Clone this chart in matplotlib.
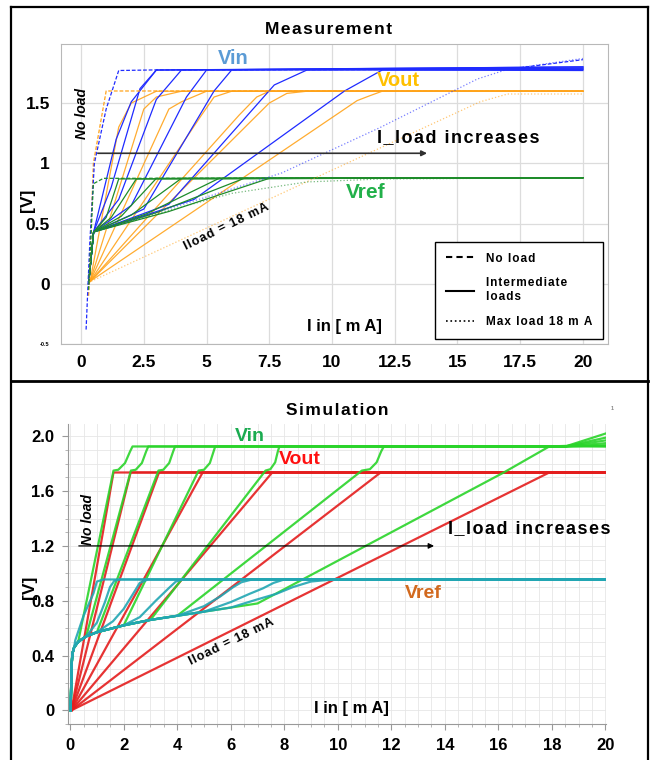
import matplotlib
matplotlib.use("Agg")
import matplotlib.pyplot as plt
from matplotlib.lines import Line2D
from matplotlib.ticker import MultipleLocator, FixedLocator

plt.rcParams["font.family"] = ["Liberation Sans", "DejaVu Sans"]
plt.rcParams["font.weight"] = "bold"

# ---------------- Measurement data (Iin [mA], V) ----------------
meas_xticks = [0, 2.5, 5, 7.5, 10, 12.5, 15, 17.5, 20]
meas_yticks = [-0.5, 0, 0.5, 1, 1.5]

# no load (dashed)
meas_vin_noload_x = [0.2, 0.35, 0.53, 1.0, 1.5, 3.0, 17.0, 20.0]
meas_vin_noload_y = [-0.38, 0.35, 1.0, 1.45, 1.77, 1.775, 1.78, 1.86]
meas_vout_noload_x = [0.3, 0.49, 1.0, 20.0]
meas_vout_noload_y = [-0.1, 1.0, 1.6, 1.6]
meas_vref_noload_x = [0.3, 0.49, 0.89, 20.0]
meas_vref_noload_y = [-0.05, 0.83, 0.875, 0.88]

# intermediate loads (solid)
meas_vin_x = [
    [0.3, 0.5, 1.4, 2.0, 3.0, 20.0],
    [0.3, 0.5, 1.2, 2.35, 3.0, 20.0],
    [0.3, 0.5, 1.5, 3.0, 4.0, 20.0],
    [0.3, 0.5, 2.0, 4.2, 5.0, 20.0],
    [0.3, 0.5, 2.5, 5.3, 6.0, 20.0],
    [0.3, 0.5, 3.5, 7.7, 9.0, 20.0],
    [0.3, 0.5, 4.5, 10.5, 12.0, 20.0],
]
meas_vin_y = [
    [0.0, 0.43, 1.2, 1.51, 1.774, 1.80],
    [0.0, 0.43, 0.8, 1.62, 1.774, 1.79],
    [0.0, 0.43, 0.7, 1.53, 1.774, 1.80],
    [0.0, 0.43, 0.65, 1.55, 1.774, 1.79],
    [0.0, 0.43, 0.62, 1.6, 1.774, 1.78],
    [0.0, 0.43, 0.66, 1.65, 1.774, 1.78],
    [0.0, 0.43, 0.7, 1.6, 1.774, 1.77],
]
meas_vout_x = [
    [0.36, 1.5, 2.0, 3.0, 20.0],
    [0.36, 2.5, 3.0, 4.0, 20.0],
    [0.36, 3.5, 4.0, 5.0, 20.0],
    [0.36, 4.8, 5.3, 6.0, 20.0],
    [0.36, 6.3, 7.0, 7.5, 20.0],
    [0.36, 7.5, 8.2, 9.0, 20.0],
    [0.36, 11.0, 11.5, 12.0, 20.0],
]
meas_vout_y = [
    [0.02, 1.3, 1.5, 1.598, 1.598],
    [0.02, 1.45, 1.55, 1.598, 1.598],
    [0.02, 1.45, 1.51, 1.598, 1.598],
    [0.02, 1.4, 1.55, 1.598, 1.598],
    [0.02, 1.4, 1.55, 1.598, 1.598],
    [0.02, 1.5, 1.58, 1.598, 1.598],
    [0.02, 1.52, 1.56, 1.598, 1.598],
]
meas_vref_x = [
    [0.3, 0.5, 1.0, 1.5, 20.0],
    [0.3, 0.5, 1.2, 2.2, 20.0],
    [0.3, 0.5, 1.6, 3.0, 20.0],
    [0.3, 0.5, 2.0, 4.0, 20.0],
    [0.3, 0.5, 2.6, 5.5, 20.0],
    [0.3, 0.5, 3.0, 6.5, 20.0],
    [0.3, 0.5, 3.5, 7.5, 20.0],
]
meas_vref_y = [
    [0.0, 0.43, 0.55, 0.87, 0.88],
    [0.0, 0.43, 0.55, 0.87, 0.88],
    [0.0, 0.43, 0.56, 0.875, 0.88],
    [0.0, 0.43, 0.57, 0.875, 0.88],
    [0.0, 0.43, 0.58, 0.875, 0.88],
    [0.0, 0.43, 0.59, 0.875, 0.88],
    [0.0, 0.43, 0.6, 0.875, 0.88],
]

# max load 18 mA (dotted)
meas_vin_max_x = [0.3, 0.5, 5.0, 8.0, 11.9, 15.8, 17.0, 20.0]
meas_vin_max_y = [0.0, 0.43, 0.72, 0.92, 1.295, 1.70, 1.78, 1.87]
meas_vout_max_x = [0.4, 15.9, 17.0, 20.0]
meas_vout_max_y = [0.02, 1.51, 1.575, 1.575]
meas_vref_max_x = [0.3, 0.5, 3.0, 6.0, 9.0, 12.0, 20.0]
meas_vref_max_y = [0.0, 0.43, 0.58, 0.75, 0.845, 0.87, 0.88]

# ---------------- Simulation data ----------------
sim_xticks = [0, 2, 4, 6, 8, 10, 12, 14, 16, 18, 20]
sim_yticks = [0, 0.4, 0.8, 1.2, 1.6, 2.0]
sim_ytick_labels = ["0", "0.4", "0.8", "1.2", "1.6", "2.0"]

sim_vout_level = 1.736
sim_vout_knee = [1.62, 2.26, 3.32, 4.95, 7.55, 11.6, 17.9]

# common start of Vin / Vref
sim_bundle_x = [0.02, 0.05, 0.08, 0.15, 0.3, 0.6, 1.0, 2.0, 3.0, 4.0, 5.0, 6.0, 7.0]
sim_bundle_y = [0.0, 0.3, 0.41, 0.46, 0.5, 0.54, 0.57, 0.62, 0.66, 0.69, 0.72, 0.75, 0.78]

# index of the bundle point where each Vin curve leaves it
sim_vin_leave = [4, 5, 6, 7, 8, 9, 12]
sim_vin_x = [
    [1.62, 1.80, 2.05, 2.24, 2.33, 18.5, 20.0],
    [2.27, 2.45, 2.68, 2.84, 2.92, 18.5, 20.0],
    [3.30, 3.48, 3.70, 3.85, 3.92, 18.5, 20.0],
    [4.80, 5.00, 5.22, 5.36, 5.42, 18.5, 20.0],
    [7.30, 7.48, 7.66, 7.76, 7.82, 18.5, 20.0],
    [10.9, 11.2, 11.45, 11.62, 11.72, 18.5, 20.0],
    [16.2, 17.9, 18.5, 20.0],
]
sim_vin_y = [
    [1.75, 1.756, 1.805, 1.89, 1.926, 1.926, 2.02],
    [1.75, 1.756, 1.805, 1.89, 1.926, 1.926, 1.99],
    [1.75, 1.756, 1.805, 1.89, 1.926, 1.926, 1.97],
    [1.75, 1.756, 1.805, 1.89, 1.926, 1.926, 1.95],
    [1.75, 1.76, 1.81, 1.89, 1.926, 1.926, 1.935],
    [1.75, 1.76, 1.81, 1.89, 1.926, 1.926, 1.93],
    [1.736, 1.926, 1.93, 1.925],
]

# index of the bundle point where each Vref curve leaves it
sim_vref_leave = [3, 5, 6, 7, 9, 10, 11]
sim_vref_x = [
    [0.19, 0.5, 0.87, 1.0, 1.24, 20.0],
    [1.0, 1.3, 1.49, 1.65, 1.85, 20.0],
    [1.6, 2.0, 2.36, 2.6, 2.9, 20.0],
    [2.6, 3.2, 3.73, 3.95, 4.2, 20.0],
    [5.0, 5.6, 6.1, 6.4, 6.8, 20.0],
    [6.0, 6.7, 7.2, 7.6, 8.0, 20.0],
    [7.0, 7.7, 8.33, 9.0, 9.8, 20.0],
]
sim_vref_y = [
    [0.51, 0.69, 0.853, 0.94, 0.955, 0.955],
    [0.64, 0.79, 0.90, 0.945, 0.955, 0.955],
    [0.65, 0.74, 0.853, 0.93, 0.955, 0.955],
    [0.68, 0.80, 0.90, 0.94, 0.955, 0.955],
    [0.76, 0.83, 0.90, 0.935, 0.955, 0.955],
    [0.79, 0.85, 0.89, 0.93, 0.955, 0.955],
    [0.81, 0.85, 0.90, 0.94, 0.955, 0.955],
]

# colours
MEAS_VIN = "#1f2bff"
MEAS_VOUT = "#ffa31a"
MEAS_VREF = "#1e8c2a"
SIM_VIN = "#2ad42a"
SIM_VOUT = "#e41e1e"
SIM_VREF = "#22a6b3"


def spaced(s):
    # the original labels are set with wide letter spacing
    return "\u200a".join(s)


fig = plt.figure(figsize=(6.5, 7.6), dpi=100)

# ---------------- Measurement panel ----------------
ax1 = fig.add_axes([61 / 650, 1 - 344 / 760, 547 / 650, 300 / 760])
ax1.set_xlim(-0.8, 21.0)
ax1.set_ylim(-0.5, 1.99)
ax1.xaxis.set_major_locator(FixedLocator(meas_xticks))
ax1.yaxis.set_major_locator(FixedLocator(meas_yticks))
ax1.set_xticklabels([f"{v:g}" for v in meas_xticks])
ax1.set_yticklabels([f"{v:g}" for v in meas_yticks])
ax1.tick_params(length=0, labelsize=12.5, pad=8)
ax1.get_yticklabels()[0].set_fontsize(4)
ax1.grid(True, color="#dcdcdc", lw=0.9)
ax1.set_axisbelow(True)
for s in ax1.spines.values():
    s.set_color("#b8b8b8")

for xs, ys in zip(meas_vout_x, meas_vout_y):
    ax1.plot(xs, ys, color=MEAS_VOUT, lw=0.9, alpha=0.9)
for xs, ys in zip(meas_vin_x, meas_vin_y):
    ax1.plot(xs, ys, color=MEAS_VIN, lw=0.9)
for xs, ys in zip(meas_vref_x, meas_vref_y):
    ax1.plot(xs, ys, color=MEAS_VREF, lw=0.9)
ax1.plot(meas_vout_noload_x, meas_vout_noload_y, color=MEAS_VOUT, lw=0.9, ls=(0, (3, 1.5)))
ax1.plot(meas_vin_noload_x, meas_vin_noload_y, color=MEAS_VIN, lw=0.9, ls=(0, (3, 1.5)))
ax1.plot(meas_vref_noload_x, meas_vref_noload_y, color=MEAS_VREF, lw=0.9, ls=(0, (3, 1.5)))
ax1.plot(meas_vout_max_x, meas_vout_max_y, color=MEAS_VOUT, lw=0.9, ls=":", alpha=0.6)
ax1.plot(meas_vin_max_x, meas_vin_max_y, color=MEAS_VIN, lw=0.9, ls=":", alpha=0.6)
ax1.plot(meas_vref_max_x, meas_vref_max_y, color=MEAS_VREF, lw=0.9, ls=":", alpha=0.6)

ax1.text(6.06, 1.87, "Vin", color="#5b9bd5", fontsize=14.5, ha="center", va="center")
ax1.text(12.63, 1.69, "Vout", color="#ffc000", fontsize=14.5, ha="center", va="center")
ax1.text(11.35, 0.76, "Vref", color="#22b04a", fontsize=15, ha="center", va="center")
ax1.text(0.04, 1.41, "No load", rotation=90, style="italic", fontsize=10,
         ha="center", va="center")
ax1.annotate("", xy=(13.9, 1.083), xytext=(0.56, 1.083),
             arrowprops=dict(arrowstyle="-|>", color="#303030", lw=1.2,
                             mutation_scale=8))
ax1.text(11.8, 1.21, spaced("I_load increases"), fontsize=13, ha="left", va="center")
ax1.text(5.78, 0.47, spaced("Iload = 18 mA"), rotation=26, fontsize=9,
         ha="center", va="center", rotation_mode="anchor")
ax1.text(10.5, -0.355, "I in [ m A]", fontsize=12, ha="center", va="center")
fig.text(27 / 650, 1 - 200 / 760, "[V]", rotation=90, fontsize=12.5,
         ha="center", va="center")
fig.text(329 / 650, 1 - 30 / 760, spaced("Measurement"), fontsize=12.5,
         ha="center", va="center")

handles = [Line2D([], [], color="black", lw=1.5, ls=(0, (3, 2))),
           Line2D([], [], color="black", lw=1.5),
           Line2D([], [], color="black", lw=1.2, ls=":")]
leg = ax1.legend(handles, [spaced("No load"), spaced("Intermediate") + "\n" + spaced("loads"),
                           spaced("Max load 18 m A")],
                 loc="lower right", bbox_to_anchor=(0.991, 0.017),
                 fontsize=8.5, frameon=True, fancybox=False, edgecolor="black",
                 labelspacing=1.1, handlelength=2.4, borderpad=0.9,
                 handletextpad=1.0, borderaxespad=0)
leg.get_frame().set_linewidth(1.0)
leg.get_frame().set_alpha(1)

# ---------------- Simulation panel ----------------
ax2 = fig.add_axes([68 / 650, 1 - 724 / 760, 538 / 650, 300 / 760])
ax2.set_xlim(-0.08, 20.02)
ax2.set_ylim(-0.1, 2.09)
ax2.xaxis.set_major_locator(FixedLocator(sim_xticks))
ax2.yaxis.set_major_locator(FixedLocator(sim_yticks))
ax2.set_yticklabels(sim_ytick_labels)
ax2.xaxis.set_minor_locator(MultipleLocator(0.5))
ax2.yaxis.set_minor_locator(MultipleLocator(0.1))
ax2.grid(True, which="both", color="#e6e6e6", lw=0.6)
ax2.set_axisbelow(True)
ax2.tick_params(which="major", length=4, color="#999999", labelsize=12, pad=6)
ax2.tick_params(which="minor", length=2, color="#aaaaaa")
for side in ["top", "right"]:
    ax2.spines[side].set_visible(False)
for side in ["left", "bottom"]:
    ax2.spines[side].set_color("#999999")

for knee in sim_vout_knee:
    ax2.plot([0.05, knee, 20.0], [0.0, sim_vout_level, sim_vout_level],
             color=SIM_VOUT, lw=1.6, alpha=0.9)
for n, xs, ys in zip(sim_vin_leave, sim_vin_x, sim_vin_y):
    ax2.plot(sim_bundle_x[:n + 1] + xs, sim_bundle_y[:n + 1] + ys,
             color=SIM_VIN, lw=1.6, alpha=0.9)
for n, xs, ys in zip(sim_vref_leave, sim_vref_x, sim_vref_y):
    ax2.plot(sim_bundle_x[:n + 1] + xs, sim_bundle_y[:n + 1] + ys,
             color=SIM_VREF, lw=1.6, alpha=0.9)

ax2.text(6.7, 2.0, "Vin", color="#1aab50", fontsize=14, ha="center", va="center")
ax2.text(8.58, 1.83, "Vout", color="#ff1010", fontsize=14, ha="center", va="center")
ax2.text(13.2, 0.856, "Vref", color="#d2691e", fontsize=14, ha="center", va="center")
ax2.text(0.67, 1.39, "No load", rotation=90, style="italic", fontsize=10,
         ha="center", va="center")
ax2.annotate("", xy=(13.7, 1.2), xytext=(0.22, 1.2),
             arrowprops=dict(arrowstyle="-|>", color="black", lw=0.9,
                             mutation_scale=8))
ax2.text(14.1, 1.33, spaced("I_load increases"), fontsize=13, ha="left", va="center")
ax2.text(6.04, 0.5, spaced("Iload = 18 mA"), rotation=26, fontsize=9,
         ha="center", va="center", rotation_mode="anchor")
ax2.text(10.5, 0.015, "I in [ m A]", fontsize=12, ha="center", va="center")
fig.text(30 / 650, 1 - 587 / 760, "[V]", rotation=90, fontsize=12.5,
         ha="center", va="center")
fig.text(337 / 650, 1 - 411 / 760, spaced("Simulation"), fontsize=12.5,
         ha="center", va="center")
fig.text(612 / 650, 1 - 408 / 760, "1", fontsize=4, color="#888888",
         ha="center", va="center")


# ---------------- panel frames ----------------
def fig_line(x0, y0, x1, y1, lw=1.6):
    fig.add_artist(Line2D([x0 / 650, x1 / 650], [1 - y0 / 760, 1 - y1 / 760],
                          color="black", lw=lw))


fig_line(11, 7, 648, 7)
fig_line(11, 7, 11, 760)
fig_line(648, 7, 648, 760)
fig_line(11, 381, 648, 381, lw=2.0)

fig.savefig("out.png", dpi=100)
